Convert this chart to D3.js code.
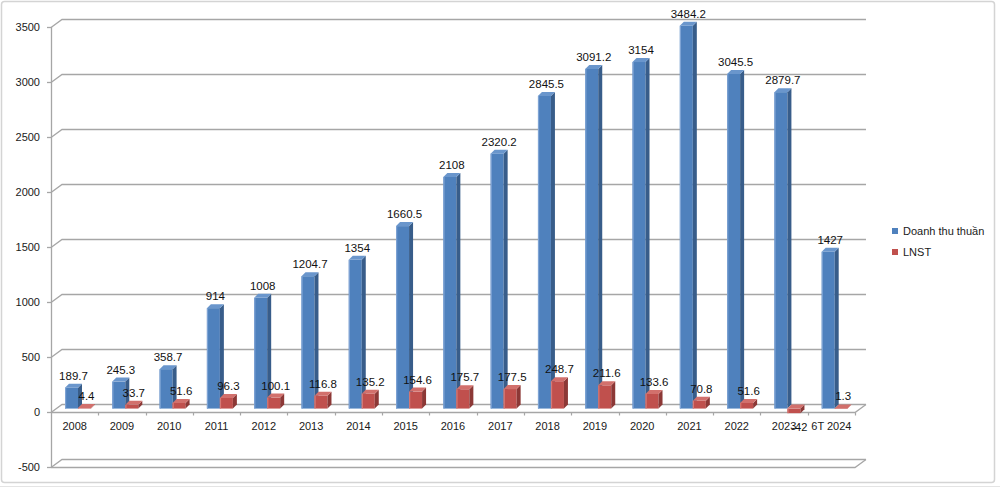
<!DOCTYPE html>
<html>
<head>
<meta charset="utf-8">
<script src="https://cdn.jsdelivr.net/npm/d3@7"></script>
<style>
html,body{margin:0;padding:0;background:#fff;}
svg{display:block;font-family:"Liberation Sans",Arial,sans-serif;}
</style>
</head>
<body>
<svg id="chart" width="1000" height="489"></svg>
<script>
const categories = ["2008","2009","2010","2011","2012","2013","2014","2015","2016","2017","2018","2019","2020","2021","2022","2023","6T 2024"];
const revenue = [189.7,245.3,358.7,914,1008,1204.7,1354,1660.5,2108,2320.2,2845.5,3091.2,3154,3484.2,3045.5,2879.7,1427];
const profit = [4.4,33.7,51.6,96.3,100.1,116.8,135.2,154.6,175.7,177.5,248.7,211.6,133.6,70.8,51.6,-42,1.3];
const yTicks = [-500,0,500,1000,1500,2000,2500,3000,3500];
const seriesNames = ["Doanh thu thuần","LNST"];

const svg = d3.select("#chart");
const W = 1000, H = 489;
const DX = 11, DY = -8;          // wall depth
const BD = 4;                    // bar depth
const gridColor = "#a6a6a6";

svg.append("rect").attr("x",0).attr("y",0).attr("width",W).attr("height",H).attr("fill","#fff");
svg.append("line").attr("x1",0).attr("x2",W).attr("y1",486.5).attr("y2",486.5).attr("stroke","#e4e4e4");
svg.append("rect").attr("x",1.5).attr("y",1.5).attr("width",993).attr("height",481)
  .attr("rx",3).attr("fill","#fff").attr("stroke","#d4d4d4").attr("stroke-width",1.5);

const y = d3.scaleLinear().domain([-500,3500]).range([466.5,27]);
const x = d3.scaleBand().domain(categories).range([51,855]).padding(0);
const xL = 51, xR = 855;

const g = svg.append("g");

yTicks.forEach(t => {
  const yy = Math.round(y(t)) + 0.5;
  g.append("path")
    .attr("d", `M${xL},${yy} L${xL+DX},${yy+DY} L${xR+DX},${yy+DY}`)
    .attr("fill","none").attr("stroke",gridColor).attr("stroke-width",1.3);
  g.append("line").attr("x1",xL-4).attr("x2",xL).attr("y1",yy).attr("y2",yy)
    .attr("stroke",gridColor).attr("stroke-width",1.3);
});
{
  const yy = Math.round(y(-500)) + 0.5;
  g.append("path").attr("d",`M${xL},${yy} L${xR},${yy} L${xR+DX},${yy+DY}`)
    .attr("fill","none").attr("stroke",gridColor).attr("stroke-width",1.3);
}
{
  const yy = Math.round(y(0)) + 0.5;
  g.append("path").attr("d",`M${xL},${yy} L${xR},${yy} L${xR+DX},${yy+DY}`)
    .attr("fill","none").attr("stroke",gridColor).attr("stroke-width",1.3);
  categories.forEach((c,i) => {
    const xx = Math.round(x(c) + x.bandwidth()) + 0.5;
    g.append("line").attr("x1",xx).attr("x2",xx).attr("y1",yy).attr("y2",yy+3)
      .attr("stroke",gridColor).attr("stroke-width",1.2);
  });
}
g.append("line").attr("x1",xL+0.5).attr("x2",xL+0.5).attr("y1",Math.round(y(3500))).attr("y2",Math.round(y(-500))+1)
  .attr("stroke",gridColor).attr("stroke-width",1.3);

yTicks.forEach(t => {
  g.append("text").attr("x",40).attr("y",y(t)+4).attr("text-anchor","end")
    .attr("font-size",11).attr("fill","#1a1a1a").text(t);
});
categories.forEach(c => {
  g.append("text").attr("x",x(c)+x.bandwidth()/2).attr("y",430).attr("text-anchor","middle")
    .attr("font-size",11).attr("fill","#1a1a1a").text(c);
});

const colors = [
  {front:"#4f81bd", side:"#385d8a", top:"#6a96cc", hl:"#7ea3d4"},
  {front:"#c0504d", side:"#8c3836", top:"#d2706c", hl:"#d47a77"}
];
const BW = 13, OFF = 14, SH = -3;
function bar(x0, v, col) {
  const yb = y(0) + SH, yt = y(v) + SH;
  const top = Math.min(yb, yt), bot = Math.max(yb, yt);
  const grp = g.append("g");
  grp.append("rect").attr("x",x0).attr("y",top).attr("width",BW).attr("height",Math.max(bot-top,0.5)).attr("fill",col.front);
  grp.append("rect").attr("x",x0).attr("y",top).attr("width",1.2).attr("height",Math.max(bot-top,0.5)).attr("fill",col.hl);
  grp.append("path").attr("d",`M${x0+BW},${top} L${x0+BW+BD},${top-BD} L${x0+BW+BD},${bot-BD} L${x0+BW},${bot} Z`).attr("fill",col.side);
  grp.append("path").attr("d",`M${x0},${top} L${x0+BD},${top-BD} L${x0+BW+BD},${top-BD} L${x0+BW},${top} Z`).attr("fill",col.top);
}
const labels = [];
categories.forEach((c,i) => {
  const bx = x(c) + OFF;
  bar(bx, revenue[i], colors[0]);
  bar(bx + BW, profit[i], colors[1]);
  labels.push({x: bx + BW/2 + 2, v: revenue[i]});
  labels.push({x: bx + BW + BW/2 + 2, v: profit[i]});
});
labels.forEach(l => {
  const neg = l.v < 0;
  const yy = !neg ? y(l.v) + SH - 8 : y(0) + SH + 22;
  g.append("text").attr("x", neg ? l.x - 4.5 : l.x).attr("y",yy)
    .attr("text-anchor", neg ? "start" : "middle")
    .attr("font-size", neg ? 11 : 11.5).attr("fill","#111").text(l.v);
});

seriesNames.forEach((s,i) => {
  const ly = 228 + i*21;
  g.append("rect").attr("x",892).attr("y",ly).attr("width",6).attr("height",6).attr("fill",colors[i].front);
  g.append("text").attr("x",903).attr("y",ly+7).attr("font-size",11).attr("fill","#1a1a1a").text(s);
});
</script>
</body>
</html>
